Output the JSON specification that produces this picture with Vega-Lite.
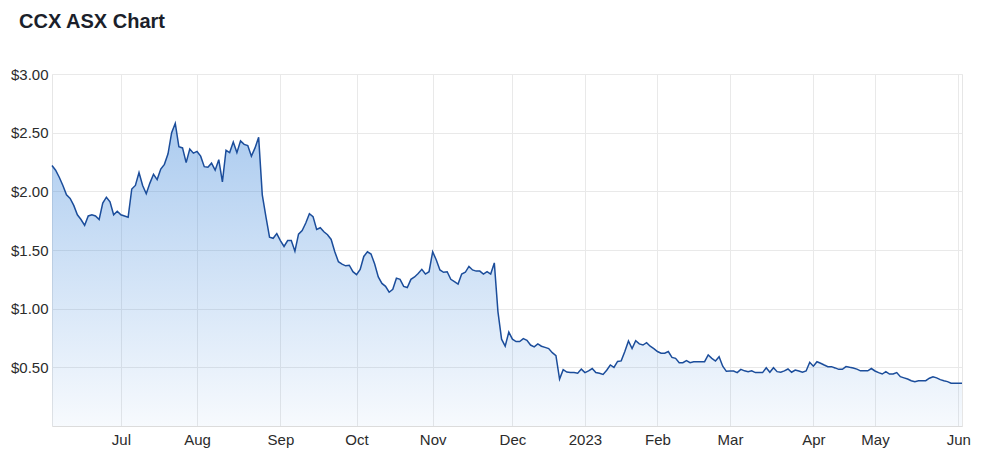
{
  "$schema": "https://vega.github.io/schema/vega-lite/v6.json",
  "autosize": {"type": "none"},
  "width": 910,
  "height": 352,
  "padding": {"left": 52, "top": 74, "right": 22, "bottom": 35},
  "background": "#ffffff",
  "title": {
    "text": "CCX ASX Chart",
    "anchor": "start",
    "frame": "group",
    "dx": -33,
    "offset": 19,
    "baseline": "alphabetic",
    "font": "Liberation Sans",
    "fontSize": 20,
    "fontWeight": "bold",
    "color": "#1b1f2b"
  },
  "config": {
    "view": {"stroke": "#e6e6e6", "strokeWidth": 1},
    "axis": {"labelFont": "Liberation Sans", "labelFontSize": 15, "labelColor": "#2b2b2b", "gridColor": "#e9e9e9", "gridWidth": 1}
  },
  "data": {
    "values": [
      {"date": "2022-06-03", "price": 2.22}, {"date": "2022-06-06", "price": 2.18}, {"date": "2022-06-07", "price": 2.12}, {"date": "2022-06-08", "price": 2.05}, {"date": "2022-06-09", "price": 1.97}, {"date": "2022-06-10", "price": 1.94}, {"date": "2022-06-14", "price": 1.88}, {"date": "2022-06-15", "price": 1.80}, {"date": "2022-06-16", "price": 1.76}, {"date": "2022-06-17", "price": 1.71}, {"date": "2022-06-20", "price": 1.79}, {"date": "2022-06-21", "price": 1.80}, {"date": "2022-06-22", "price": 1.79}, {"date": "2022-06-23", "price": 1.76}, {"date": "2022-06-24", "price": 1.90}, {"date": "2022-06-27", "price": 1.95}, {"date": "2022-06-28", "price": 1.91}, {"date": "2022-06-29", "price": 1.80}, {"date": "2022-06-30", "price": 1.83},
      {"date": "2022-07-01", "price": 1.80}, {"date": "2022-07-04", "price": 1.79}, {"date": "2022-07-05", "price": 1.78}, {"date": "2022-07-06", "price": 2.02}, {"date": "2022-07-07", "price": 2.05}, {"date": "2022-07-08", "price": 2.16}, {"date": "2022-07-11", "price": 2.05}, {"date": "2022-07-12", "price": 1.98}, {"date": "2022-07-13", "price": 2.07}, {"date": "2022-07-14", "price": 2.145}, {"date": "2022-07-15", "price": 2.10}, {"date": "2022-07-18", "price": 2.19}, {"date": "2022-07-19", "price": 2.23}, {"date": "2022-07-20", "price": 2.32}, {"date": "2022-07-21", "price": 2.50}, {"date": "2022-07-22", "price": 2.58}, {"date": "2022-07-25", "price": 2.38}, {"date": "2022-07-26", "price": 2.37}, {"date": "2022-07-27", "price": 2.245}, {"date": "2022-07-28", "price": 2.36}, {"date": "2022-07-29", "price": 2.325},
      {"date": "2022-08-01", "price": 2.34}, {"date": "2022-08-02", "price": 2.30}, {"date": "2022-08-03", "price": 2.21}, {"date": "2022-08-04", "price": 2.205}, {"date": "2022-08-05", "price": 2.24}, {"date": "2022-08-08", "price": 2.18}, {"date": "2022-08-09", "price": 2.27}, {"date": "2022-08-10", "price": 2.08}, {"date": "2022-08-11", "price": 2.35}, {"date": "2022-08-12", "price": 2.33}, {"date": "2022-08-15", "price": 2.42}, {"date": "2022-08-16", "price": 2.33}, {"date": "2022-08-17", "price": 2.43}, {"date": "2022-08-18", "price": 2.40}, {"date": "2022-08-19", "price": 2.39}, {"date": "2022-08-22", "price": 2.30}, {"date": "2022-08-23", "price": 2.37}, {"date": "2022-08-24", "price": 2.46}, {"date": "2022-08-25", "price": 1.97}, {"date": "2022-08-26", "price": 1.785}, {"date": "2022-08-29", "price": 1.61}, {"date": "2022-08-30", "price": 1.60}, {"date": "2022-08-31", "price": 1.64},
      {"date": "2022-09-01", "price": 1.58}, {"date": "2022-09-02", "price": 1.53}, {"date": "2022-09-05", "price": 1.58}, {"date": "2022-09-06", "price": 1.58}, {"date": "2022-09-07", "price": 1.49}, {"date": "2022-09-08", "price": 1.635}, {"date": "2022-09-09", "price": 1.665}, {"date": "2022-09-12", "price": 1.73}, {"date": "2022-09-13", "price": 1.81}, {"date": "2022-09-14", "price": 1.785}, {"date": "2022-09-15", "price": 1.675}, {"date": "2022-09-16", "price": 1.69}, {"date": "2022-09-19", "price": 1.655}, {"date": "2022-09-20", "price": 1.63}, {"date": "2022-09-21", "price": 1.59}, {"date": "2022-09-23", "price": 1.485}, {"date": "2022-09-26", "price": 1.40}, {"date": "2022-09-27", "price": 1.38}, {"date": "2022-09-28", "price": 1.365}, {"date": "2022-09-29", "price": 1.37}, {"date": "2022-09-30", "price": 1.315},
      {"date": "2022-10-03", "price": 1.29}, {"date": "2022-10-04", "price": 1.335}, {"date": "2022-10-05", "price": 1.445}, {"date": "2022-10-06", "price": 1.485}, {"date": "2022-10-07", "price": 1.465}, {"date": "2022-10-10", "price": 1.38}, {"date": "2022-10-11", "price": 1.27}, {"date": "2022-10-12", "price": 1.215}, {"date": "2022-10-13", "price": 1.19}, {"date": "2022-10-14", "price": 1.14}, {"date": "2022-10-17", "price": 1.165}, {"date": "2022-10-18", "price": 1.26}, {"date": "2022-10-19", "price": 1.25}, {"date": "2022-10-20", "price": 1.19}, {"date": "2022-10-21", "price": 1.18}, {"date": "2022-10-24", "price": 1.25}, {"date": "2022-10-25", "price": 1.27}, {"date": "2022-10-26", "price": 1.30}, {"date": "2022-10-27", "price": 1.335}, {"date": "2022-10-28", "price": 1.295}, {"date": "2022-10-31", "price": 1.315},
      {"date": "2022-11-01", "price": 1.485}, {"date": "2022-11-02", "price": 1.415}, {"date": "2022-11-03", "price": 1.33}, {"date": "2022-11-04", "price": 1.31}, {"date": "2022-11-07", "price": 1.315}, {"date": "2022-11-08", "price": 1.25}, {"date": "2022-11-09", "price": 1.23}, {"date": "2022-11-10", "price": 1.21}, {"date": "2022-11-11", "price": 1.295}, {"date": "2022-11-14", "price": 1.31}, {"date": "2022-11-15", "price": 1.36}, {"date": "2022-11-16", "price": 1.33}, {"date": "2022-11-17", "price": 1.32}, {"date": "2022-11-18", "price": 1.32}, {"date": "2022-11-21", "price": 1.295}, {"date": "2022-11-22", "price": 1.315}, {"date": "2022-11-23", "price": 1.295}, {"date": "2022-11-24", "price": 1.39}, {"date": "2022-11-25", "price": 0.975}, {"date": "2022-11-28", "price": 0.74}, {"date": "2022-11-29", "price": 0.68}, {"date": "2022-11-30", "price": 0.80},
      {"date": "2022-12-01", "price": 0.74}, {"date": "2022-12-02", "price": 0.72}, {"date": "2022-12-05", "price": 0.72}, {"date": "2022-12-06", "price": 0.745}, {"date": "2022-12-07", "price": 0.73}, {"date": "2022-12-08", "price": 0.69}, {"date": "2022-12-09", "price": 0.675}, {"date": "2022-12-12", "price": 0.70}, {"date": "2022-12-13", "price": 0.68}, {"date": "2022-12-14", "price": 0.67}, {"date": "2022-12-15", "price": 0.66}, {"date": "2022-12-16", "price": 0.625}, {"date": "2022-12-19", "price": 0.60}, {"date": "2022-12-20", "price": 0.40}, {"date": "2022-12-21", "price": 0.48}, {"date": "2022-12-22", "price": 0.46}, {"date": "2022-12-23", "price": 0.455}, {"date": "2022-12-28", "price": 0.455}, {"date": "2022-12-29", "price": 0.45}, {"date": "2022-12-30", "price": 0.485},
      {"date": "2023-01-03", "price": 0.455}, {"date": "2023-01-04", "price": 0.47}, {"date": "2023-01-05", "price": 0.49}, {"date": "2023-01-06", "price": 0.455}, {"date": "2023-01-09", "price": 0.45}, {"date": "2023-01-10", "price": 0.44}, {"date": "2023-01-11", "price": 0.475}, {"date": "2023-01-12", "price": 0.52}, {"date": "2023-01-13", "price": 0.50}, {"date": "2023-01-16", "price": 0.55}, {"date": "2023-01-17", "price": 0.555}, {"date": "2023-01-18", "price": 0.635}, {"date": "2023-01-19", "price": 0.725}, {"date": "2023-01-20", "price": 0.66}, {"date": "2023-01-23", "price": 0.727}, {"date": "2023-01-24", "price": 0.70}, {"date": "2023-01-25", "price": 0.69}, {"date": "2023-01-27", "price": 0.71}, {"date": "2023-01-30", "price": 0.68}, {"date": "2023-01-31", "price": 0.66},
      {"date": "2023-02-01", "price": 0.635}, {"date": "2023-02-02", "price": 0.62}, {"date": "2023-02-03", "price": 0.62}, {"date": "2023-02-06", "price": 0.635}, {"date": "2023-02-07", "price": 0.585}, {"date": "2023-02-08", "price": 0.577}, {"date": "2023-02-09", "price": 0.54}, {"date": "2023-02-10", "price": 0.54}, {"date": "2023-02-13", "price": 0.557}, {"date": "2023-02-14", "price": 0.54}, {"date": "2023-02-15", "price": 0.548}, {"date": "2023-02-16", "price": 0.548}, {"date": "2023-02-17", "price": 0.548}, {"date": "2023-02-20", "price": 0.548}, {"date": "2023-02-21", "price": 0.605}, {"date": "2023-02-22", "price": 0.577}, {"date": "2023-02-23", "price": 0.554}, {"date": "2023-02-24", "price": 0.59}, {"date": "2023-02-27", "price": 0.51}, {"date": "2023-02-28", "price": 0.466},
      {"date": "2023-03-01", "price": 0.469}, {"date": "2023-03-02", "price": 0.469}, {"date": "2023-03-03", "price": 0.455}, {"date": "2023-03-06", "price": 0.483}, {"date": "2023-03-07", "price": 0.47}, {"date": "2023-03-08", "price": 0.463}, {"date": "2023-03-09", "price": 0.47}, {"date": "2023-03-10", "price": 0.455}, {"date": "2023-03-13", "price": 0.455}, {"date": "2023-03-14", "price": 0.455}, {"date": "2023-03-15", "price": 0.497}, {"date": "2023-03-16", "price": 0.458}, {"date": "2023-03-17", "price": 0.497}, {"date": "2023-03-20", "price": 0.463}, {"date": "2023-03-21", "price": 0.458}, {"date": "2023-03-22", "price": 0.47}, {"date": "2023-03-23", "price": 0.486}, {"date": "2023-03-24", "price": 0.458}, {"date": "2023-03-27", "price": 0.477}, {"date": "2023-03-28", "price": 0.469}, {"date": "2023-03-29", "price": 0.458}, {"date": "2023-03-30", "price": 0.469}, {"date": "2023-03-31", "price": 0.543},
      {"date": "2023-04-03", "price": 0.51}, {"date": "2023-04-04", "price": 0.548}, {"date": "2023-04-05", "price": 0.535}, {"date": "2023-04-06", "price": 0.52}, {"date": "2023-04-11", "price": 0.506}, {"date": "2023-04-12", "price": 0.506}, {"date": "2023-04-13", "price": 0.495}, {"date": "2023-04-14", "price": 0.483}, {"date": "2023-04-17", "price": 0.483}, {"date": "2023-04-18", "price": 0.506}, {"date": "2023-04-19", "price": 0.50}, {"date": "2023-04-20", "price": 0.495}, {"date": "2023-04-21", "price": 0.485}, {"date": "2023-04-24", "price": 0.47}, {"date": "2023-04-26", "price": 0.47}, {"date": "2023-04-27", "price": 0.47}, {"date": "2023-04-28", "price": 0.49},
      {"date": "2023-05-01", "price": 0.469}, {"date": "2023-05-02", "price": 0.455}, {"date": "2023-05-03", "price": 0.443}, {"date": "2023-05-04", "price": 0.463}, {"date": "2023-05-05", "price": 0.443}, {"date": "2023-05-08", "price": 0.443}, {"date": "2023-05-09", "price": 0.455}, {"date": "2023-05-10", "price": 0.42}, {"date": "2023-05-11", "price": 0.41}, {"date": "2023-05-12", "price": 0.40}, {"date": "2023-05-15", "price": 0.386}, {"date": "2023-05-16", "price": 0.378}, {"date": "2023-05-17", "price": 0.386}, {"date": "2023-05-18", "price": 0.386}, {"date": "2023-05-19", "price": 0.386}, {"date": "2023-05-22", "price": 0.407}, {"date": "2023-05-23", "price": 0.42}, {"date": "2023-05-24", "price": 0.41}, {"date": "2023-05-25", "price": 0.395}, {"date": "2023-05-26", "price": 0.386}, {"date": "2023-05-29", "price": 0.378}, {"date": "2023-05-30", "price": 0.364}, {"date": "2023-05-31", "price": 0.364},
      {"date": "2023-06-01", "price": 0.364}, {"date": "2023-06-02", "price": 0.364}
    ]
  },
  "encoding": {
    "x": {
      "field": "date",
      "type": "ordinal",
      "sort": "ascending",
      "scale": {"type": "point", "padding": 0},
      "axis": {
        "title": null,
        "values": ["2022-07-01", "2022-08-01", "2022-09-01", "2022-10-03", "2022-11-01", "2022-12-01", "2023-01-03", "2023-02-01", "2023-03-01", "2023-04-03", "2023-05-01", "2023-06-01"],
        "labelExpr": "datum.value == '2023-01-03' ? '2023' : utcFormat(toDate(datum.value), '%b')",
        "labelAngle": 0,
        "ticks": false,
        "domain": true,
        "domainColor": "#dcdcdc",
        "grid": true,
        "labelPadding": 6
      }
    },
    "y": {
      "field": "price",
      "type": "quantitative",
      "scale": {"domain": [0, 3], "nice": false},
      "axis": {
        "title": null,
        "values": [0.5, 1, 1.5, 2, 2.5, 3],
        "format": "$.2f",
        "domain": false,
        "ticks": false,
        "grid": true,
        "labelPadding": 4
      }
    }
  },
  "layer": [
    {
      "mark": {
        "type": "area",
        "interpolate": "linear",
        "fill": {
          "gradient": "linear",
          "x1": 0, "y1": 0, "x2": 0, "y2": 1,
          "stops": [
            {"offset": 0, "color": "rgba(47,126,216,0.40)"},
            {"offset": 1, "color": "rgba(47,126,216,0.04)"}
          ]
        },
        "opacity": 1
      }
    },
    {
      "mark": {"type": "line", "interpolate": "linear", "color": "#1b4d9b", "strokeWidth": 1.5}
    }
  ]
}
